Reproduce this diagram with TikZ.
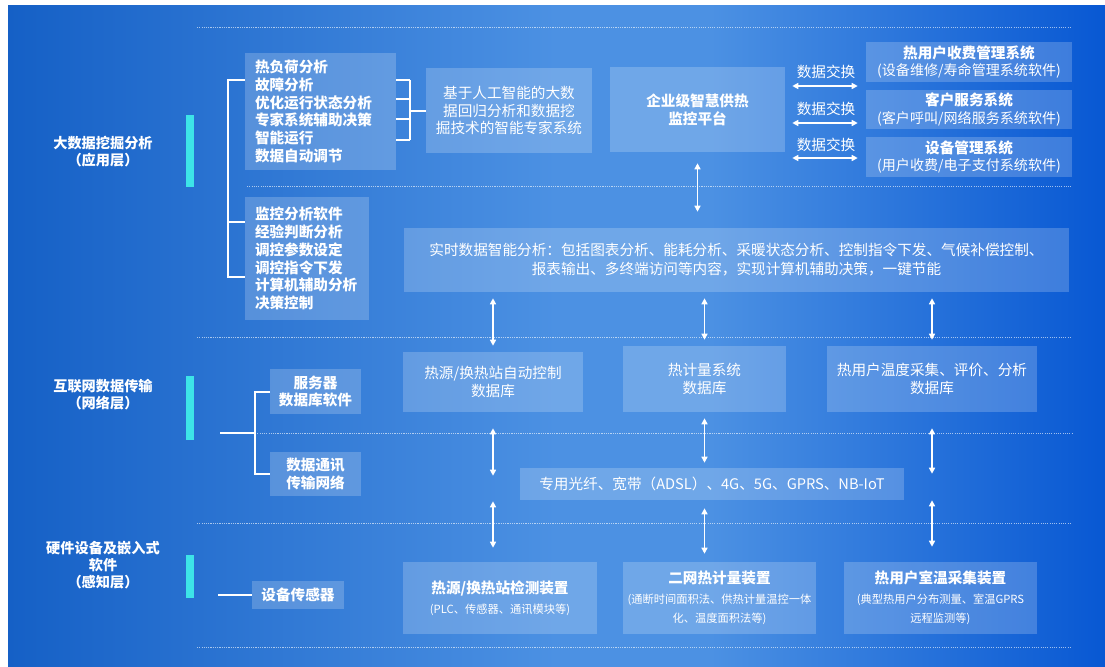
\documentclass[tikz,border=0pt]{standalone}
\usepackage{fontspec}
\setmainfont{Noto Sans CJK SC}
\usetikzlibrary{arrows.meta,calc}
\definecolor{bgleft}{HTML}{1560C6}
\definecolor{bgmid}{HTML}{4C91E3}
\definecolor{bgright}{HTML}{0858D3}
\definecolor{cyanbar}{HTML}{3DE4E8}
\pgfdeclarehorizontalshading{bgshade}{100bp}{color(0bp)=(bgleft); color(25bp)=(bgleft); color(50bp)=(bgmid); color(57bp)=(bgmid); color(75bp)=(bgright); color(100bp)=(bgright)}
\newcommand\titlefont{\fontsize{10.4}{12.7}\selectfont\bfseries}
\newcommand\notefont{\fontsize{8}{13.5}\selectfont}

\begin{document}
\begin{tikzpicture}[
  x=0.25mm, y=-0.25mm,
  panel/.style={fill=white, fill opacity=0.2, text opacity=1, text=white,
    inner sep=0pt, align=center, font=\fontsize{10.4}{12.7}\selectfont},
  strong/.style={font=\fontsize{10.4}{12.7}\selectfont\bfseries},
  listbox/.style={align=left, inner xsep=2.5mm, strong},
  layer/.style={text=white, align=center, inner sep=0pt,
    font=\fontsize{10.1}{12.2}\selectfont\bfseries},
  exlabel/.style={text=white, inner sep=0pt, font=\fontsize{10.4}{12.7}\selectfont},
  dbl/.style={{Triangle[length=1.5mm,width=1.5mm]}-{Triangle[length=1.5mm,width=1.5mm]},
    white, line width=0.35mm},
  tree/.style={white, line width=0.5mm},
  sep/.style={white, opacity=0.6, line width=0.3pt, dash pattern=on 0.8pt off 0.8pt},
]
  \useasboundingbox (0,0) rectangle (1105,666);
  \fill[white] (0,0) rectangle (1105,666);
  \shade[shading=bgshade] (8,5) rectangle (1105,666);

  % dotted separators
  \foreach \y/\x in {27/197, 186/247, 337/197, 433/255, 523/197, 647/197}
    \draw[sep] (\x,\y) -- (1072,\y);

  % layer labels and bars
  \node[layer] (lapp) at (103,151.5) {大数据挖掘分析\\（应用层）};
  \node[layer] (lnet) at (103,395) {互联网数据传输\\（网络层）};
  \node[layer] (lhw) at (103,565) {硬件设备及嵌入式\\软件\\（感知层）};
  \foreach \t/\b in {115/187, 376/440, 555/598}
    \fill[cyanbar] (186,\t) rectangle (194,\b);

  % application layer
  \node[panel, listbox, text width=32.75mm, minimum height=29.25mm] (a1) at (320.5,111.5)
    {热负荷分析\\故障分析\\优化运行状态分析\\专家系统辅助决策\\智能运行\\数据自动调节};
  \node[panel, listbox, text width=26mm, minimum height=30.75mm] (a2) at (307,258.5)
    {监控分析软件\\经验判断分析\\调控参数设定\\调控指令下发\\计算机辅助分析\\决策控制};
  \node[panel, minimum width=41.5mm, minimum height=21.25mm] (ai) at (509,110.5)
    {基于人工智能的大数\\据回归分析和数据挖\\掘技术的智能专家系统};
  \node[panel, strong, minimum width=43.75mm, minimum height=21.25mm] (plat) at (697.5,109.5)
    {企业级智慧供热\\监控平台};

  \node[panel, font=\fontsize{10}{12.7}\selectfont, minimum width=51.5mm, minimum height=10mm] (r1) at (969,62)
    {{\titlefont 热用户收费管理系统}\\(设备维修/寿命管理系统软件)};
  \node[panel, font=\fontsize{10}{12.7}\selectfont, minimum width=51.5mm, minimum height=9.75mm] (r2) at (969,109.5)
    {{\titlefont 客户服务系统}\\(客户呼叫/网络服务系统软件)};
  \node[panel, font=\fontsize{10}{12.7}\selectfont, minimum width=51.5mm, minimum height=10mm] (r3) at (969,157)
    {{\titlefont 设备管理系统}\\(用户收费/电子支付系统软件)};

  \node[exlabel] (ex1) at (826,72) {数据交换};
  \node[exlabel] (ex2) at (826,109) {数据交换};
  \node[exlabel] (ex3) at (826,145) {数据交换};

  \node[panel, font=\fontsize{10.4}{13.5}\selectfont, minimum width=166.25mm, minimum height=16mm] (rt) at (736.5,260)
    {实时数据智能分析：包括图表分析、能耗分析、采暖状态分析、控制指令下发、气候补偿控制、\\报表输出、多终端访问等内容，实现计算机辅助决策，一键节能};

  % databases
  \node[panel, minimum width=45mm, minimum height=15mm] (db1) at (493,382)
    {热源/换热站自动控制\\数据库};
  \node[panel, minimum width=40.75mm, minimum height=16.5mm] (db2) at (704.5,379)
    {热计量系统\\数据库};
  \node[panel, minimum width=52.5mm, minimum height=16.5mm] (db3) at (932,379)
    {热用户温度采集、评价、分析\\数据库};

  % network layer
  \node[panel, strong, minimum width=22.75mm, minimum height=11.25mm] (srv) at (315.5,391.5)
    {服务器\\数据库软件};
  \node[panel, strong, minimum width=22.75mm, minimum height=11mm] (comm) at (315.5,474)
    {数据通讯\\传输网络};
  \node[panel, minimum width=96mm, minimum height=8mm] (net) at (712,484)
    {专用光纤、宽带（ADSL）、4G、5G、GPRS、NB-IoT};

  % perception layer
  \node[panel, strong, minimum width=23mm, minimum height=7mm] (sens) at (298,595) {设备传感器};
  \node[panel, font=\notefont, minimum width=48.5mm, minimum height=18mm] (dev1) at (500,598)
    {{\titlefont 热源/换热站检测装置}\\[1pt](PLC、传感器、通讯模块等)};
  \node[panel, font=\notefont, minimum width=48.25mm, minimum height=18mm] (dev2) at (719.5,598)
    {{\titlefont 二网热计量装置}\\[1pt](通断时间面积法、供热计量温控一体\\化、温度面积法等)};
  \node[panel, font=\notefont, minimum width=48.25mm, minimum height=18mm] (dev3) at (940.5,598)
    {{\titlefont 热用户室温采集装置}\\[1pt](典型热用户分布测量、室温GPRS\\远程监测等)};

  % brackets
  \draw[tree] (a1.west |- 0,80) -- ++(-17,0) |- (a2.west |- 0,277);
  \draw[tree] (a2.west |- 0,222) -- ++(-17,0);
  \foreach \y in {80,99,119,140}
    \draw[tree] (a1.east |- 0,\y) -- ++(14,0);
  \draw[tree] ($(a1.east |- 0,80)+(14,0)$) -- ($(a1.east |- 0,140)+(14,0)$);
  \draw[tree] (ai.west) -- ++(-16,0);
  \coordinate (netroot) at (220,433);
  \draw[tree] (srv.west) -- ++(-15,0) |- (comm.west);
  \draw[tree] (netroot) -- ($(srv.west |- netroot)+(-15,0)$);
  \draw[tree] (sens.west) -- ++(-34,0);

  % data exchange
  \draw[dbl] ($(plat.east |- ex1)+(7,14)$) -- ($(r1.west |- ex1)+(-8,14)$);
  \draw[dbl] ($(plat.east |- ex2)+(7,14)$) -- ($(r2.west |- ex2)+(-8,14)$);
  \draw[dbl] ($(plat.east |- ex3)+(7,13)$) -- ($(r3.west |- ex3)+(-8,13)$);

  % vertical links
  \draw[dbl] ($(plat.south)+(0,11)$) -- ($(plat.south |- rt.north)+(0,-16)$);
  \foreach \d in {db1,db2,db3}
    \draw[dbl] ($(rt.south -| \d.north)+(0,6)$) -- ($(\d.north)+(0,-6)$);
  \draw[dbl] ($(db1.south)+(0,16)$) -- ($(db1.south |- net.north)+(0,8)$);
  \draw[dbl] ($(db2.south)+(0,6)$) -- ($(db2.south |- net.north)+(0,-5)$);
  \draw[dbl] ($(db3.south)+(0,16)$) -- ($(db3.south |- net.north)+(0,6)$);
  \draw[dbl] ($(db1.south |- net.south)+(0,1)$) -- ($(db1.south |- dev1.north)+(0,-14)$);
  \draw[dbl] ($(db2.south |- net.south)+(0,8)$) -- ($(db2.south |- dev2.north)+(0,-8)$);
  \draw[dbl] ($(db3.south |- net.south)+(0,0)$) -- ($(db3.south |- dev3.north)+(0,-15)$);
\end{tikzpicture}
\end{document}
